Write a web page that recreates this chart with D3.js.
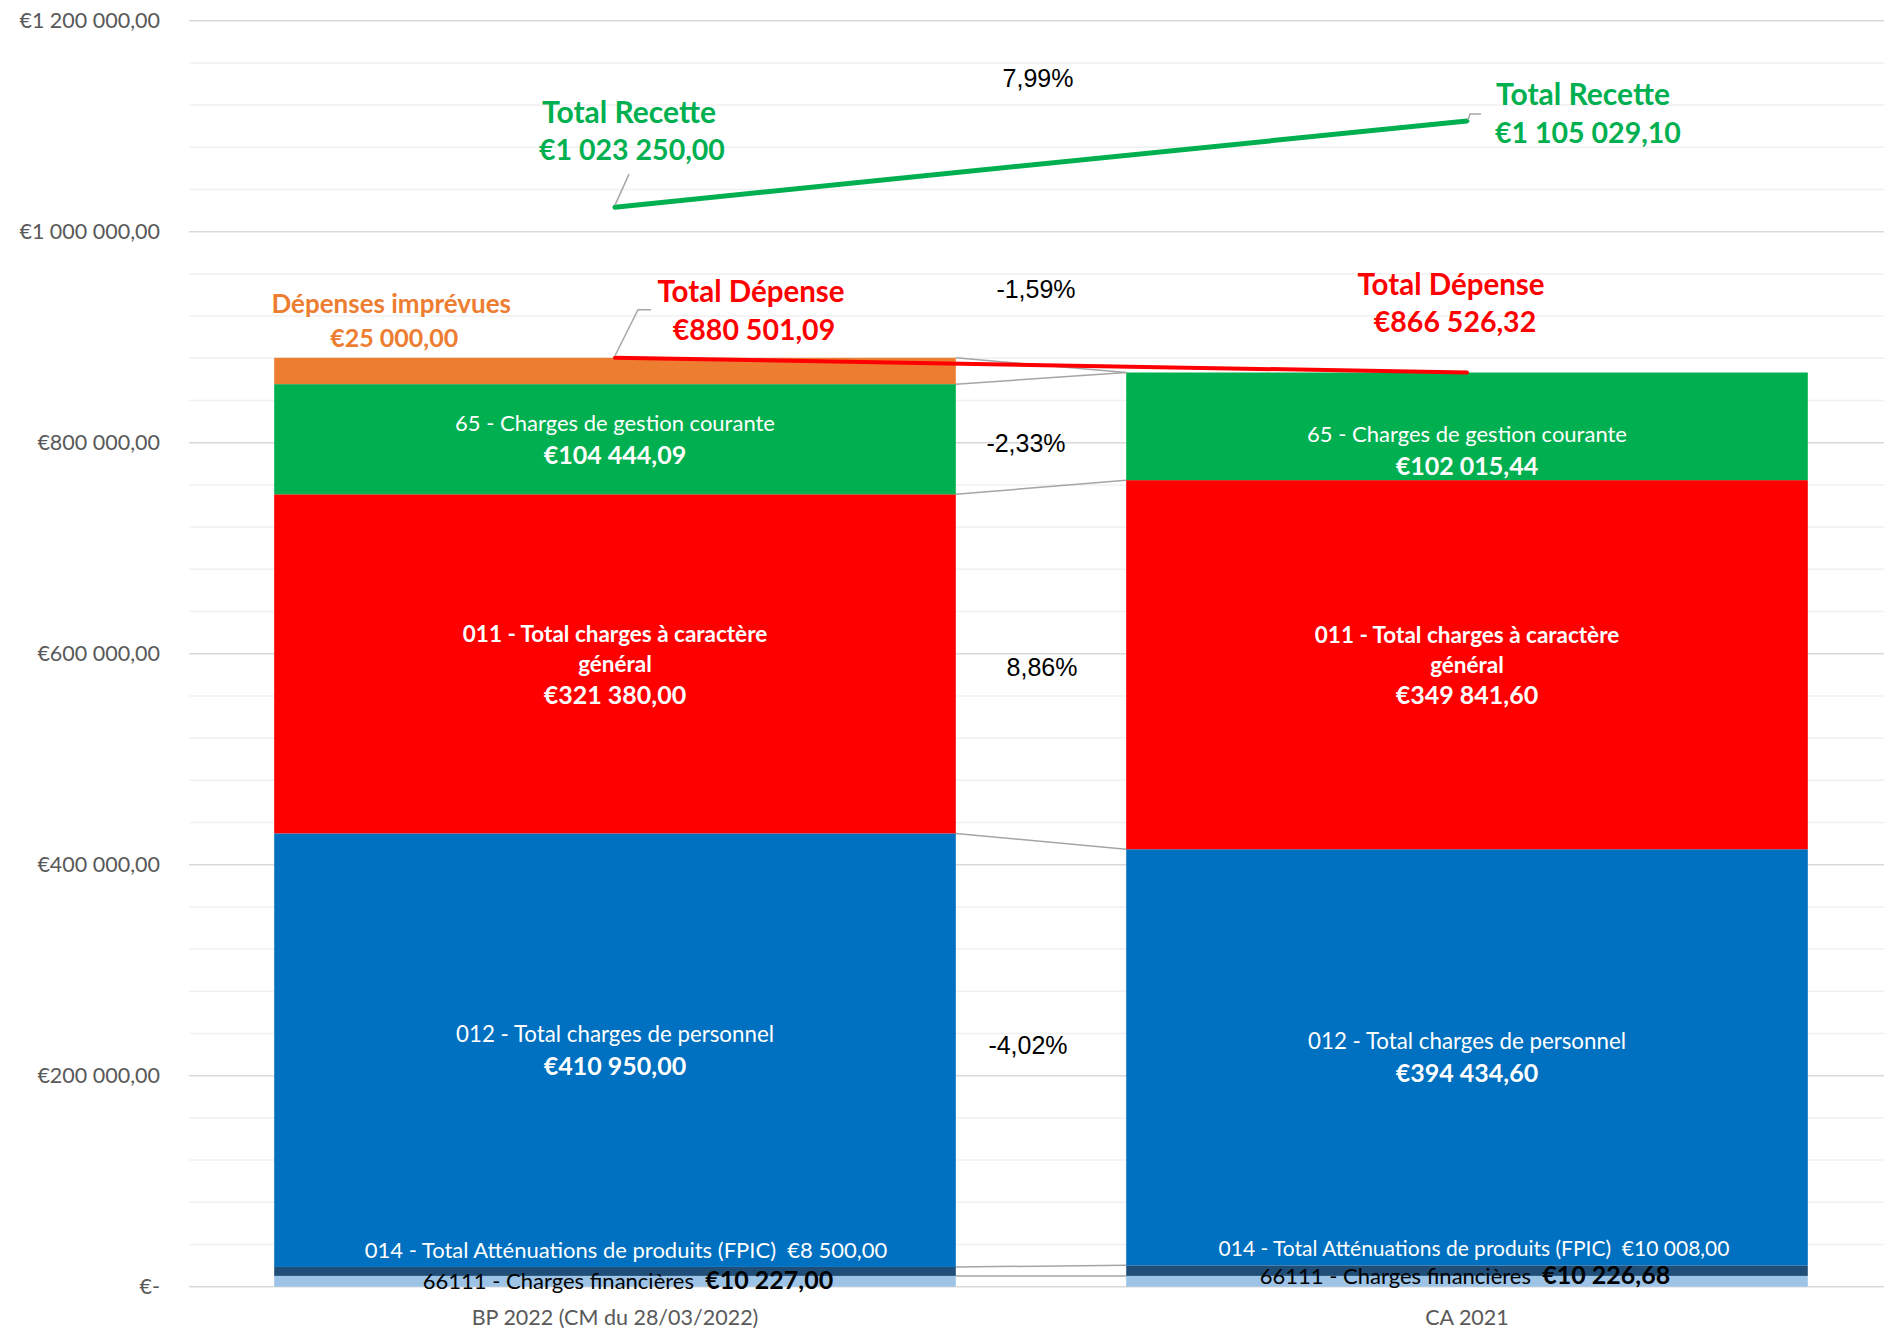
<!DOCTYPE html>
<html>
<head>
<meta charset="utf-8">
<script src="https://cdn.jsdelivr.net/npm/d3@7"></script>
<style>
  html, body { margin: 0; padding: 0; background: #fff; }
  svg { display: block; }
  text { font-family: Lato, "Open Sans", sans-serif; }
  .pct { font-family: "Liberation Sans", Arial, sans-serif; }
</style>
</head>
<body>
<svg id="chart" width="1884" height="1329"></svg>
<script>
// ---------------- DATA ----------------
const categories = ["BP 2022 (CM du 28/03/2022)", "CA 2021"];
const seriesKeys = ["c66111", "c014", "c012", "c011", "c65", "imprevues"];
const seriesNames = [
  "66111 - Charges financières",
  "014 - Total Atténuations de produits (FPIC)",
  "012 - Total charges de personnel",
  "011 - Total charges à caractère général",
  "65 - Charges de gestion courante",
  "Dépenses imprévues"
];
const charges66111 = [10227.00, 10226.68];
const attenuations014 = [8500.00, 10008.00];
const personnel012 = [410950.00, 394434.60];
const chargesGeneral011 = [321380.00, 349841.60];
const gestion65 = [104444.09, 102015.44];
const depensesImprevues = [25000.00, 0];
const totalRecette = [1023250.00, 1105029.10];
const totalDepense = [880501.09, 866526.32];
const yTicks = [0, 200000, 400000, 600000, 800000, 1000000, 1200000];
const yMinorStep = 40000;

// ---------------- SETUP ----------------
const W = 1884, H = 1329;
const svg = d3.select("#chart");
const loc = d3.formatLocale({decimal: ",", thousands: "\u00a0", grouping: [3], currency: ["€", ""], minus: "-"});
const fmtMoney = loc.format("$,.2f");
const fmtTick = v => v === 0 ? "€-" : fmtMoney(v);
const fmtPct = loc.format(".2%");

const x = d3.scaleBand().domain(categories).range([189, 1893]).paddingInner(0.2).paddingOuter(0.1);
const y = d3.scaleLinear().domain([0, 1200000]).range([1286.7, 20.7]);

const seriesArrays = [charges66111, attenuations014, personnel012, chargesGeneral011, gestion65, depensesImprevues];
const colors = ["#9DC3E6", "#1F4E79", "#0070C0", "#FF0000", "#00B050", "#ED7D31"];

const table = categories.map((c, i) => {
  const row = {cat: c};
  seriesKeys.forEach((k, j) => row[k] = seriesArrays[j][i]);
  return row;
});
const stacked = d3.stack().keys(seriesKeys)(table);

// ---------------- GRID ----------------
const minorVals = d3.range(0, 1200000 + 1, yMinorStep).filter(v => !yTicks.includes(v));
svg.append("g").selectAll("line").data(minorVals).join("line")
  .attr("x1", 189).attr("x2", W).attr("y1", d => y(d)).attr("y2", d => y(d))
  .attr("stroke", "#F0F0F0").attr("stroke-width", 1.5);
svg.append("g").selectAll("line").data(yTicks).join("line")
  .attr("x1", 189).attr("x2", W).attr("y1", d => y(d)).attr("y2", d => y(d))
  .attr("stroke", "#D9D9D9").attr("stroke-width", 1.5);

// Y axis labels
const yAxis = d3.axisLeft(y).tickValues(yTicks).tickFormat(fmtTick).tickSize(0).tickPadding(0);
const yg = svg.append("g").attr("transform", "translate(160,0)").call(yAxis);
yg.select(".domain").remove();
yg.selectAll("text").attr("fill", "#595959").style("font-family", "Lato, sans-serif").style("font-size", "21.5px");

// X axis labels
const xAxis = d3.axisBottom(x).tickSize(0).tickPadding(0);
const xg = svg.append("g").attr("transform", "translate(0,1310)").call(xAxis);
xg.select(".domain").remove();
xg.selectAll("text").attr("fill", "#595959").style("font-family", "Lato, sans-serif").style("font-size", "21.5px");

// ---------------- SERIES CONNECTOR LINES ----------------
stacked.forEach(s => {
  svg.append("line")
    .attr("x1", x(categories[0]) + x.bandwidth()).attr("y1", y(s[0][1]))
    .attr("x2", x(categories[1])).attr("y2", y(s[1][1]))
    .attr("stroke", "#A5A5A5").attr("stroke-width", 1.5);
});

// ---------------- BARS ----------------
const gBars = svg.append("g");
stacked.forEach((s, j) => {
  gBars.append("g").selectAll("rect").data(s).join("rect")
    .attr("x", d => x(d.data.cat))
    .attr("width", x.bandwidth())
    .attr("y", d => y(d[1]))
    .attr("height", d => Math.max(0, y(d[0]) - y(d[1])))
    .attr("fill", colors[j]);
});

// ---------------- BAR LABELS ----------------
const gl = svg.append("g");
function addText(xp, yp, txt, opts) {
  const t = gl.append("text").attr("x", xp).attr("y", yp).attr("dy", "0.35em")
    .attr("text-anchor", opts.anchor || "middle")
    .attr("fill", opts.fill || "#fff")
    .style("font-size", (opts.size || 23) + "px")
    .style("font-weight", opts.bold ? 700 : 400)
    .text(txt);
  if (opts.cls) t.attr("class", opts.cls);
  return t;
}
const label65Shift = [0, 24];
const label66111Dx = [13, -2];
const label66111Dy = [7, 2];
const label014Dx = [11, 7];
const label014Size = [22, 21];
categories.forEach((c, i) => {
  const cx = x(c) + x.bandwidth() / 2;
  const segMid = k => { const s = stacked[seriesKeys.indexOf(k)][i]; return (y(s[0]) + y(s[1])) / 2; };
  const segTop = k => y(stacked[seriesKeys.indexOf(k)][i][1]);

  // 65
  const m65 = segMid("c65") + label65Shift[i];
  addText(cx, m65 - 16, seriesNames[4], {size: 22});
  addText(cx, m65 + 16, fmtMoney(gestion65[i]), {size: 25, bold: true});
  // 011
  addText(cx, segMid("c011") - 30, "011 - Total charges à caractère", {size: 22.5, bold: true});
  addText(cx, segMid("c011") + 0, "général", {size: 22.5, bold: true});
  addText(cx, segMid("c011") + 31, fmtMoney(chargesGeneral011[i]), {size: 25, bold: true});
  // 012
  addText(cx, segMid("c012") - 16, seriesNames[2], {size: 22.3});
  addText(cx, segMid("c012") + 16, fmtMoney(personnel012[i]), {size: 25, bold: true});
  // 014
  addText(cx + label014Dx[i], segTop("c014") - 17, seriesNames[1] + "\u00a0\u00a0" + fmtMoney(attenuations014[i]), {size: label014Size[i]});
  // 66111
  const t = gl.append("text").attr("x", cx + label66111Dx[i]).attr("y", segTop("c66111") + label66111Dy[i]).attr("dy", "0.35em")
    .attr("text-anchor", "middle").attr("fill", "#000");
  t.append("tspan").style("font-size", "22px").text(seriesNames[0] + "\u00a0\u00a0");
  t.append("tspan").style("font-size", "25px").style("font-weight", 700).text(fmtMoney(charges66111[i]));
});

// Dépenses imprévues label
{
  const top = y(stacked[5][0][1]);
  const lx = x(categories[0]) + 117;
  addText(lx, top - 54, seriesNames[5], {size: 26, bold: true, fill: "#ED7D31"});
  addText(lx + 3, top - 20, fmtMoney(depensesImprevues[0]), {size: 25, bold: true, fill: "#ED7D31"});
}

// ---------------- TOTAL LINES ----------------
const cxs = categories.map(c => x(c) + x.bandwidth() / 2);
const lineGen = d3.line().x((d, i) => cxs[i]).y(d => y(d));
svg.append("path").datum(totalDepense).attr("d", lineGen)
  .attr("fill", "none").attr("stroke", "#FF0000").attr("stroke-width", 4).attr("stroke-linecap", "round");
svg.append("path").datum(totalRecette).attr("d", lineGen)
  .attr("fill", "none").attr("stroke", "#00B050").attr("stroke-width", 5).attr("stroke-linecap", "round");

// Leader lines
const leader = pts => svg.append("polyline").attr("points", pts.map(p => p.join(",")).join(" "))
  .attr("fill", "none").attr("stroke", "#A6A6A6").attr("stroke-width", 1.5);
{
  const r0 = [cxs[0], y(totalRecette[0])], r1 = [cxs[1], y(totalRecette[1])];
  const d0 = [cxs[0], y(totalDepense[0])], d1 = [cxs[1], y(totalDepense[1])];
  leader([[r0[0], r0[1] - 2], [r0[0] + 14, r0[1] - 33]]);
  leader([[r1[0] + 1, r1[1] - 1], [r1[0] + 3, r1[1] - 7], [r1[0] + 14, r1[1] - 7]]);
  leader([[d0[0], d0[1] - 2], [d0[0] + 23, d0[1] - 48], [d0[0] + 36, d0[1] - 48]]);

  const G = "#00B050", R = "#FF0000";
  addText(r0[0] + 14, r0[1] - 95, "Total Recette", {size: 30, bold: true, fill: G});
  addText(r0[0] + 17, r0[1] - 57, fmtMoney(totalRecette[0]), {size: 28.5, bold: true, fill: G});
  addText(r1[0] + 116, r1[1] - 26, "Total Recette", {size: 30, bold: true, fill: G});
  addText(r1[0] + 121, r1[1] + 12, fmtMoney(totalRecette[1]), {size: 28.5, bold: true, fill: G});
  addText(d0[0] + 136, d0[1] - 66, "Total Dépense", {size: 29.5, bold: true, fill: R});
  addText(d0[0] + 139, d0[1] - 28, fmtMoney(totalDepense[0]), {size: 28.5, bold: true, fill: R});
  addText(d1[0] - 16, d1[1] - 88, "Total Dépense", {size: 29.5, bold: true, fill: R});
  addText(d1[0] - 12, d1[1] - 50, fmtMoney(totalDepense[1]), {size: 28.5, bold: true, fill: R});
}

// ---------------- PERCENT CHANGES ----------------
const pctValues = [
  totalRecette[1] / totalRecette[0] - 1,
  totalDepense[1] / totalDepense[0] - 1,
  gestion65[1] / gestion65[0] - 1,
  chargesGeneral011[1] / chargesGeneral011[0] - 1,
  personnel012[1] / personnel012[0] - 1
];
const pctPos = [[1038, 78], [1036, 289], [1026, 443], [1042, 667], [1028, 1045]];
pctValues.forEach((v, i) => {
  addText(pctPos[i][0], pctPos[i][1], fmtPct(v), {size: 25, fill: "#000", cls: "pct"});
});
</script>
</body>
</html>
